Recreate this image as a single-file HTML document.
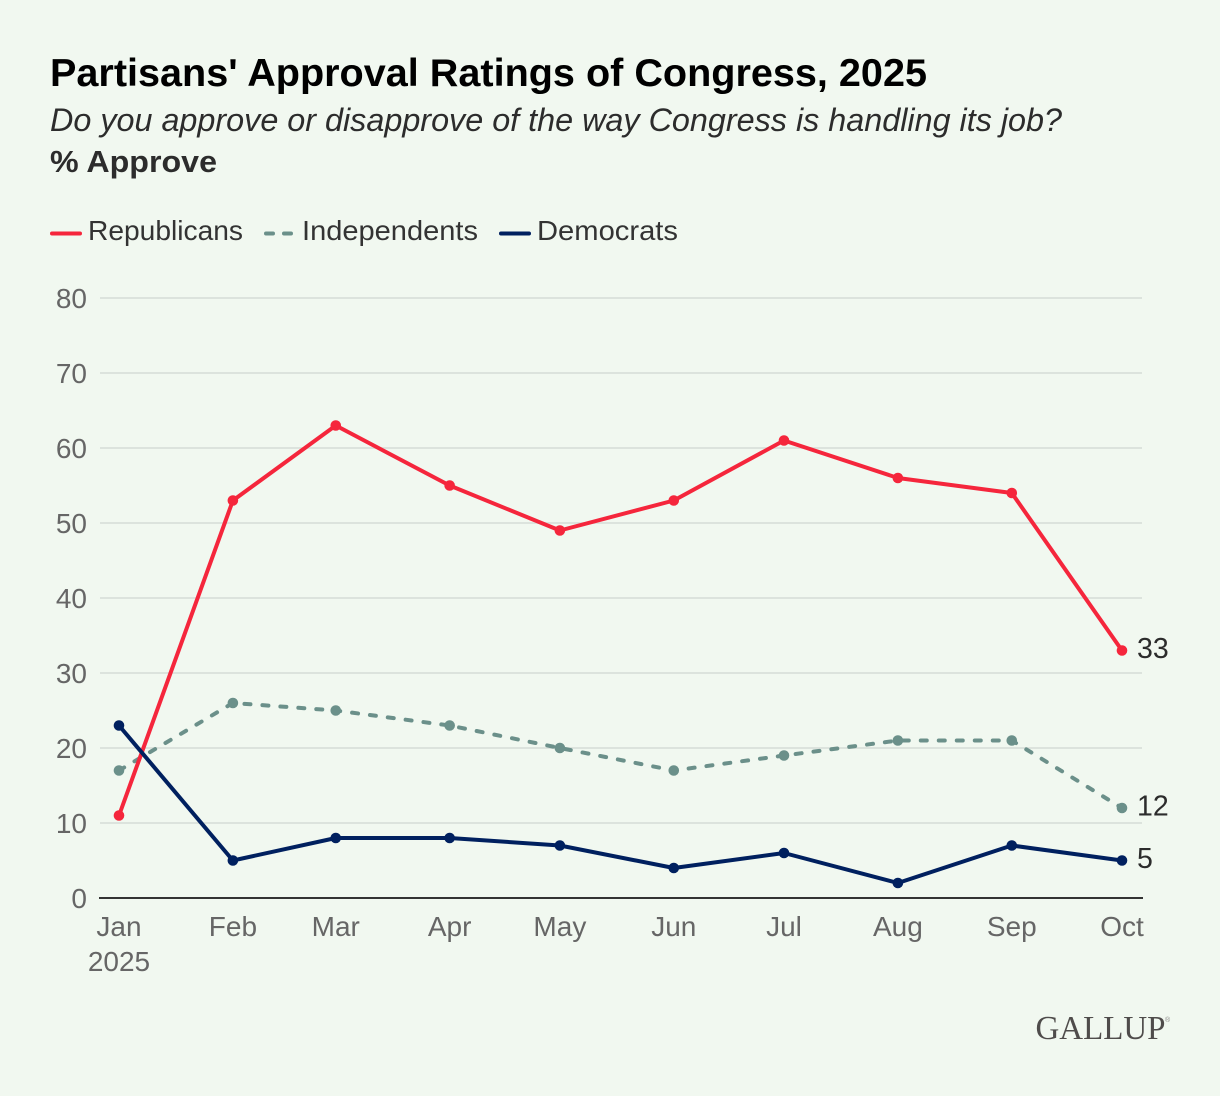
<!DOCTYPE html>
<html lang="en">
<head>
<meta charset="utf-8">
<title>Partisans' Approval Ratings of Congress, 2025</title>
<style>
  html, body { margin: 0; padding: 0; background: #f1f8f0; }
  svg { display: block; }
  text { font-family: "Liberation Sans", sans-serif; }
</style>
</head>
<body>
<svg id="chart" xmlns="http://www.w3.org/2000/svg" width="1220" height="1096" viewBox="0 0 1220 1096">
  <rect width="1220" height="1096" fill="#f1f8f0"/>
  <text x="50" y="86" font-size="39" font-weight="700" fill="#000" textLength="877" lengthAdjust="spacingAndGlyphs">Partisans' Approval Ratings of Congress, 2025</text>
  <text x="50" y="131" font-size="32" font-style="italic" fill="#2c2c2c" textLength="1012" lengthAdjust="spacingAndGlyphs">Do you approve or disapprove of the way Congress is handling its job?</text>
  <text x="50" y="172" font-size="31" font-weight="700" fill="#2c2c2c" textLength="167" lengthAdjust="spacingAndGlyphs">% Approve</text>

  <g>
    <g>
      <line x1="52" y1="233.5" x2="80" y2="233.5" stroke="#f5263c" stroke-width="4" stroke-linecap="round"/>
      <text x="88" y="240" font-size="28" fill="#333" textLength="155" lengthAdjust="spacingAndGlyphs">Republicans</text>
    </g>
    <g>
      <line x1="266" y1="233.5" x2="291" y2="233.5" stroke="#6b908a" stroke-width="4" stroke-dasharray="7 11" stroke-linecap="round"/>
      <text x="302" y="240" font-size="28" fill="#333" textLength="176" lengthAdjust="spacingAndGlyphs">Independents</text>
    </g>
    <g>
      <line x1="501" y1="233.5" x2="529" y2="233.5" stroke="#00205f" stroke-width="4" stroke-linecap="round"/>
      <text x="537" y="240" font-size="28" fill="#333" textLength="141" lengthAdjust="spacingAndGlyphs">Democrats</text>
    </g>
  </g>

  <g id="grid"></g>
  <g id="y-axis"></g>
  <g id="x-axis"></g>
  <g id="series"></g>

  <text x="1035.5" y="1039" font-size="34" fill="#4f4c4b" textLength="130" lengthAdjust="spacingAndGlyphs" style="font-family:'Liberation Serif',serif">GALLUP</text>
  <text x="1165" y="1022" font-size="7" fill="#8a8887">®</text>
</svg>
<script>
const months = ["Jan", "Feb", "Mar", "Apr", "May", "Jun", "Jul", "Aug", "Sep", "Oct"];
const yTicks = [0, 10, 20, 30, 40, 50, 60, 70, 80];
const yearLabel = "2025";
const republicans = [11, 53, 63, 55, 49, 53, 61, 56, 54, 33];
const independents = [17, 26, 25, 23, 20, 17, 19, 21, 21, 12];
const democrats = [23, 5, 8, 8, 7, 4, 6, 2, 7, 5];

const NS = "http://www.w3.org/2000/svg";
const plot = { left: 100, right: 1142, top: 298, bottom: 898, x0: 119, x1: 1122, yMax: 80 };

function dayOfMonthStart(i) {
  return (Date.UTC(2025, i, 1) - Date.UTC(2025, 0, 1)) / 86400000;
}
const lastDay = dayOfMonthStart(months.length - 1);
function xScale(i) {
  return plot.x0 + (plot.x1 - plot.x0) * dayOfMonthStart(i) / lastDay;
}
function yScale(v) {
  return plot.bottom - (plot.bottom - plot.top) * v / plot.yMax;
}
function make(tag, parent, attrs) {
  const el = document.createElementNS(NS, tag);
  for (const k in attrs) el.setAttribute(k, attrs[k]);
  parent.appendChild(el);
  return el;
}

const grid = document.getElementById("grid");
const yAxis = document.getElementById("y-axis");
const xAxis = document.getElementById("x-axis");
const seriesLayer = document.getElementById("series");

yTicks.forEach(function (t) {
  const y = yScale(t);
  if (t !== 0) {
    const line = make("line", grid, { x1: plot.left, x2: plot.right, y1: y, y2: y, stroke: "#dce3dd", "stroke-width": 2 });
    
    
  }
  const label = make("text", yAxis, { x: 87, y: y + 10, "text-anchor": "end", "font-size": 28, fill: "#666" });
  
  
  label.textContent = t;
});

const baseline = make("line", xAxis, { x1: plot.left - 1, x2: plot.right + 1, y1: plot.bottom, y2: plot.bottom, stroke: "#333", "stroke-width": 2 });



months.forEach(function (m, i) {
  const label = make("text", xAxis, { x: xScale(i), y: 936, "text-anchor": "middle", "font-size": 28, fill: "#666" });
  
  
  label.textContent = m;
});
const year = make("text", xAxis, { x: xScale(0), y: 971, "text-anchor": "middle", "font-size": 28, fill: "#666" });


year.textContent = yearLabel;

function drawSeries(values, color, dash) {
  const pts = values.map(function (v, i) { return xScale(i).toFixed(2) + "," + yScale(v).toFixed(2); }).join(" ");
  const line = make("polyline", seriesLayer, { points: pts, fill: "none", stroke: color, "stroke-width": 4, "stroke-linejoin": "round" });
  
  
  if (dash) {
    line.setAttribute("stroke-dasharray", dash);
    line.setAttribute("stroke-linecap", "round");
  }
  values.forEach(function (v, i) {
    const dot = make("circle", seriesLayer, { cx: xScale(i), cy: yScale(v), r: 5.3, fill: color });
    
    
  });
  const last = values.length - 1;
  const end = make("text", seriesLayer, { x: xScale(last) + 15, y: yScale(values[last]) + 7.5, "font-size": 28.5, fill: "#2c2c2c" });
  
  
  end.textContent = values[last];
}

drawSeries(independents, "#6b908a", "6 12");
drawSeries(republicans, "#f5263c", null);
drawSeries(democrats, "#00205f", null);
</script>
</body>
</html>
